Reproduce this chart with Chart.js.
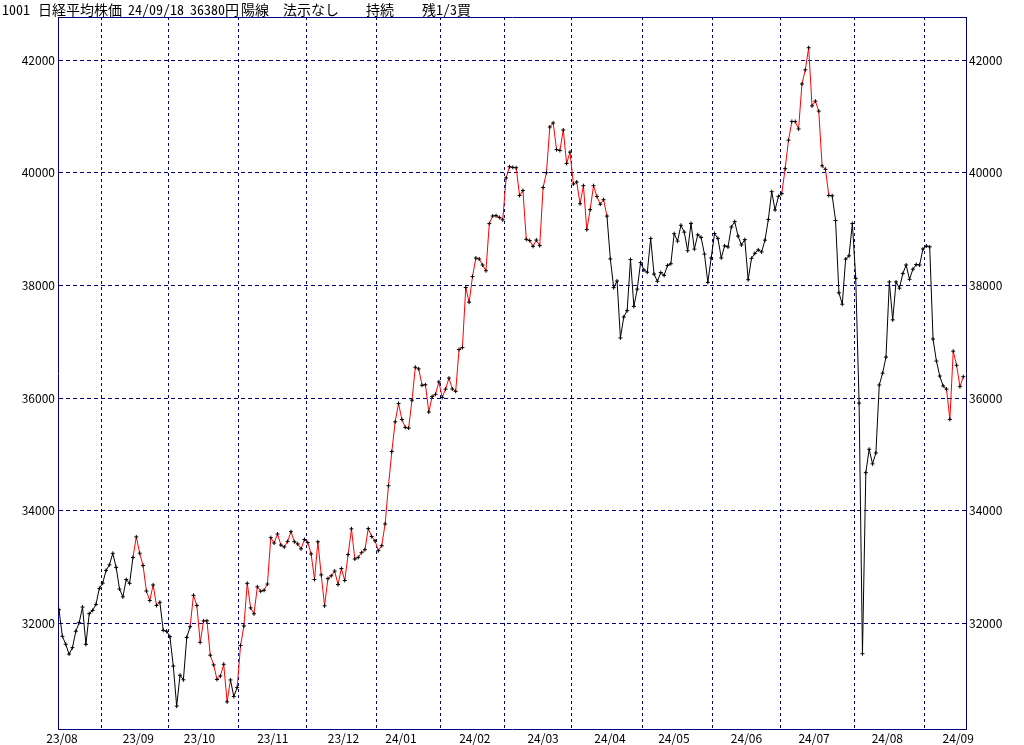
<!DOCTYPE html>
<html lang="ja">
<head>
<meta charset="utf-8">
<title>1001 日経平均株価</title>
<script src="https://cdn.jsdelivr.net/npm/chart.js@4.4.1/dist/chart.umd.min.js"></script>
<style>
  body { margin: 0; background: #fff; }
  #wrap { position: relative; width: 1024px; height: 745px; }
  #head span {
    position: absolute; top: 2px;
    font: 14px/14px "Noto Sans CJK JP", sans-serif;
    font-feature-settings: "hwid" 1;
    color: #000; white-space: pre;
  }
</style>
</head>
<body>
<div id="wrap">
  <canvas id="chart" width="1024" height="745"></canvas>
  <div id="head">
    <span style="left:2px">1001</span>
    <span style="left:38px">日経平均株価</span>
    <span style="left:128px">24/09/18</span>
    <span style="left:190px">36380円</span>
    <span style="left:241px">陽線</span>
    <span style="left:283px">法示なし</span>
    <span style="left:366px">持続</span>
    <span style="left:422px">残1/3買</span>
  </div>
</div>
<script>
// month axis
const monthLabels = ["23/08", "23/09", "23/10", "23/11", "23/12", "24/01", "24/02",
                     "24/03", "24/04", "24/05", "24/06", "24/07", "24/08", "24/09"];
const monthDays   = [13, 20, 21, 20, 21, 19, 19, 20, 21, 21, 20, 22, 21, 12];
const labelAt     = [0.9, 23.6, 41.8, 63.6, 84.6, 101.7, 123.7, 144, 163.9, 182.9, 204.5, 224.6, 246.4, 267.5];
const yTicks      = [32000, 34000, 36000, 38000, 40000, 42000];

// daily closes, 23/08/15 .. 24/09/18
const closes = [
  32239, 31767, 31626, 31451, 31566, 31857, 32010, 32287, 31624, 32170, 32227, 32333, 32619,
  32711, 32939, 33037, 33241, 32991, 32607, 32468, 32776, 32707, 33168, 33533, 33243, 33024, 32571, 32402, 32679, 32315, 32372, 31873, 31858,
  31760, 31238, 30527, 31075, 30995, 31747, 31937, 32495, 32316, 31659, 32040, 32042, 31431, 31259, 31000, 31062, 31270, 30602, 30992, 30697, 30859,
  31602, 31950, 32708, 32272, 32166, 32646, 32568, 32585, 32696, 33520, 33424, 33585, 33388, 33354, 33452, 33626, 33448, 33408, 33321, 33487,
  33432, 33231, 32776, 33446, 32858, 32308, 32792, 32843, 32926, 32686, 32971, 32759, 33219, 33676, 33140, 33169, 33254, 33306, 33681, 33540, 33464,
  33288, 33377, 33763, 34442, 35050, 35577, 35902, 35619, 35478, 35466, 35963, 36547, 36518, 36226, 36236, 35751, 36027, 36066, 36287,
  36011, 36158, 36354, 36161, 36120, 36863, 36897, 37964, 37703, 38158, 38487, 38470, 38364, 38262, 39099, 39234, 39240, 39208, 39166,
  39911, 40109, 40098, 40091, 39599, 39689, 38820, 38798, 38696, 38807, 38708, 39740, 40004, 40816, 40888, 40414, 40398, 40763, 40168, 40369,
  39803, 39839, 39452, 39773, 38992, 39347, 39773, 39582, 39443, 39524, 39233, 38471, 37962, 38080, 37068, 37439, 37552, 38460, 37628, 37935, 38406,
  38274, 38236, 38835, 38202, 38074, 38229, 38179, 38356, 38386, 38920, 38787, 39070, 38947, 38617, 39103, 38646, 38900, 38855, 38557, 38054, 38488,
  38923, 38837, 38490, 38704, 38684, 39038, 39135, 38877, 38720, 38815, 38102, 38482, 38571, 38633, 38596, 38805, 39173, 39667, 39342, 39583,
  39631, 40075, 40581, 40914, 40912, 40781, 41580, 41832, 42224, 41191, 41275, 41098, 40126, 40064, 39599, 39594, 39155, 37870, 37667, 38469, 38526, 39102,
  38126, 35910, 31458, 34675, 35090, 34831, 35025, 36233, 36442, 36727, 38063, 37389, 38063, 37952, 38211, 38364, 38110, 38289, 38372, 38363, 38648,
  38701, 38686, 37048, 36657, 36391, 36216, 36159, 35620, 36833, 36582, 36203, 36380
];

// holding periods (index of first and last day), drawn in red
const holdSpans = [[22, 30], [39, 51], [53, 163], [215, 229], [264, 269]];

const navy = "#000080";

const monthEdges = [];
let acc = 0;
monthDays.slice(0, -1).forEach(n => { acc += n; monthEdges.push(acc - 0.5); });

const held = (a, b) => holdSpans.some(s => a >= s[0] && b <= s[1]);

Chart.defaults.font.family = "'Noto Sans CJK JP', 'DejaVu Sans', sans-serif";
Chart.defaults.font.size = 12;
Chart.defaults.color = "#000";

const yCommon = {
  min: 30120,
  max: 42770,
  afterBuildTicks: s => { s.ticks = yTicks.map(v => ({ value: v })); },
  afterFit: s => { s.width = 58; },
  ticks: { callback: v => String(v), padding: 3 },
  border: { color: navy, width: 1, dash: [4, 3] }
};

new Chart(document.getElementById("chart"), {
  type: "line",
  data: {
    datasets: [{
      data: closes.map((v, i) => ({ x: i, y: v })),
      xAxisID: "x",
      yAxisID: "y",
      borderColor: "#000",
      borderWidth: 1,
      tension: 0,
      pointStyle: "cross",
      pointRadius: 2,
      pointHoverRadius: 2,
      pointBorderColor: "#000",
      pointBorderWidth: 1,
      segment: {
        borderColor: c => held(c.p0DataIndex, c.p1DataIndex) ? "#ff0000" : "#000000"
      }
    }]
  },
  options: {
    responsive: false,
    devicePixelRatio: 1,
    animation: false,
    events: [],
    layout: { padding: 0 },
    plugins: { legend: { display: false }, tooltip: { enabled: false } },
    scales: {
      x: {
        type: "linear",
        position: "bottom",
        min: -0.3,
        max: 269.8,
        afterBuildTicks: s => {
          s.ticks = [...monthEdges, ...labelAt].sort((a, b) => a - b).map(v => ({ value: v }));
        },
        afterFit: s => { s.height = 16; },
        ticks: {
          autoSkip: false, maxRotation: 0, minRotation: 0, padding: 2,
          callback: v => {
            const k = labelAt.indexOf(v);
            return k < 0 ? "" : monthLabels[k];
          }
        },
        grid: {
          drawTicks: false,
          color: c => (c.tick && monthEdges.includes(c.tick.value)) ? navy : "rgba(0,0,0,0)"
        },
        border: { color: navy, width: 1, dash: [3, 3] }
      },
      xt: {
        type: "linear",
        position: "top",
        min: -0.3,
        max: 269.8,
        afterFit: s => { s.height = 17; },
        ticks: { display: false },
        grid: { display: false, drawTicks: false },
        border: { color: navy, width: 1 }
      },
      y: {
        ...yCommon,
        position: "left",
        grid: { drawTicks: false, color: navy }
      },
      y2: {
        ...yCommon,
        position: "right",
        grid: { display: false, drawTicks: false }
      }
    }
  }
});
</script>
</body>
</html>
